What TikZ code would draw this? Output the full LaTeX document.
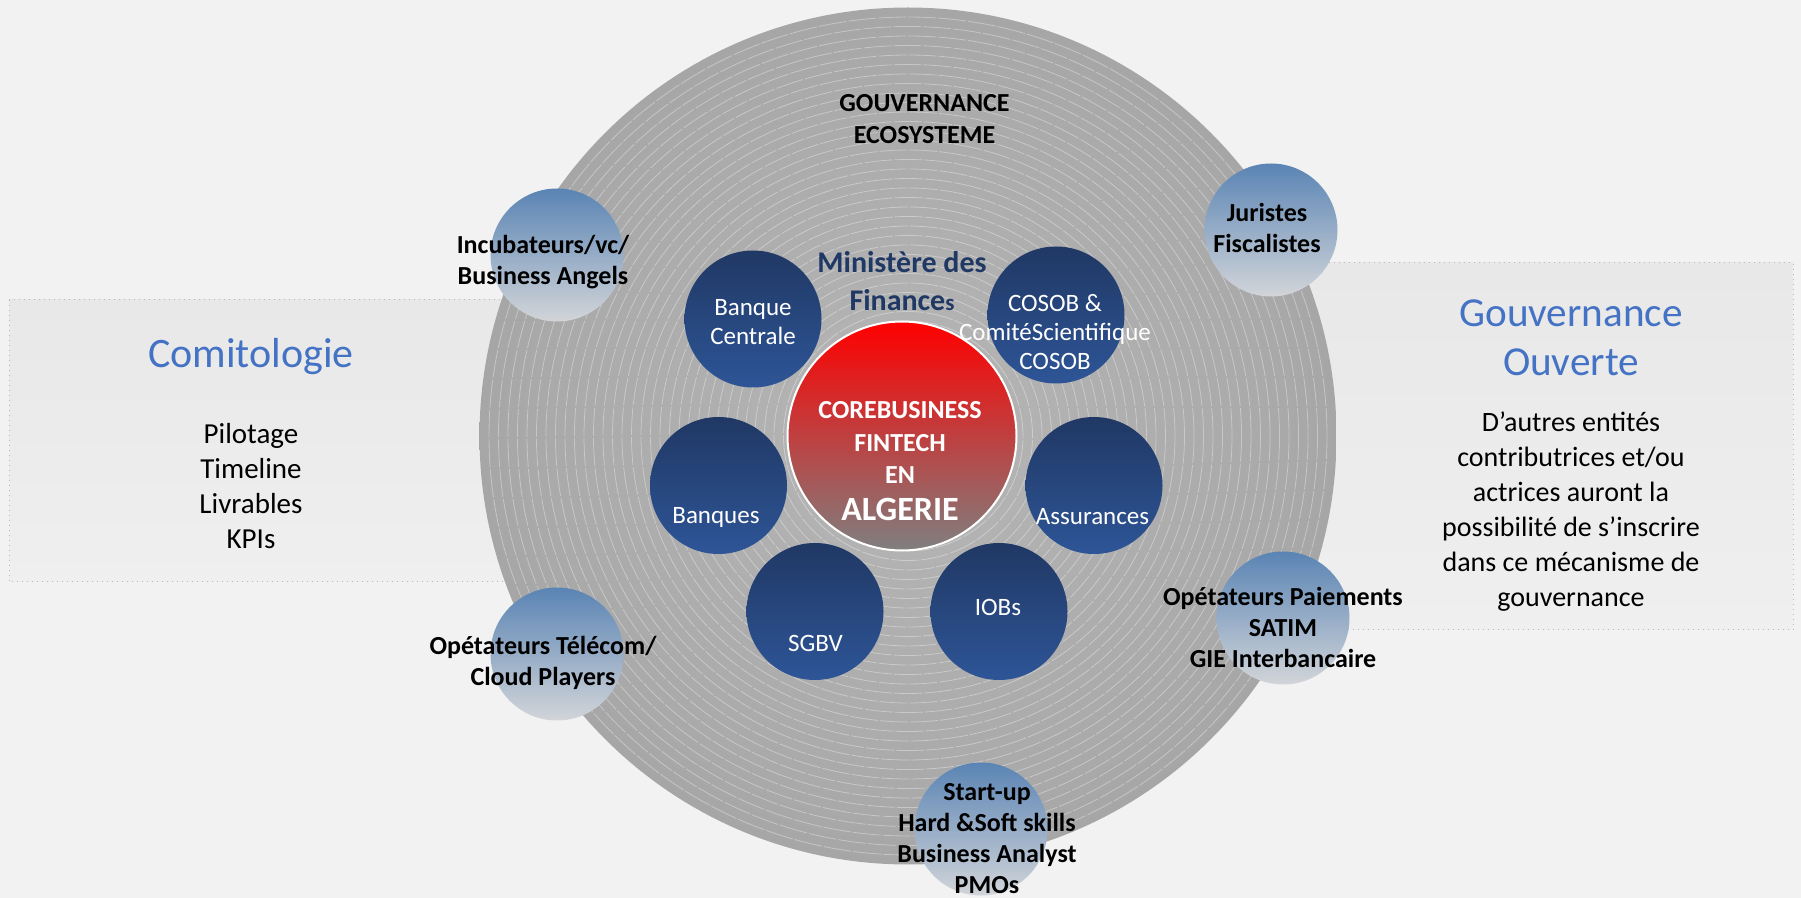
\documentclass[tikz,border=0pt]{standalone}
\usepackage{fontspec}
\setmainfont{Carlito}
\definecolor{bgcol}{HTML}{F2F2F2}
\definecolor{panelTop}{HTML}{E8E8E8}
\definecolor{panelBot}{HTML}{EFEFEF}
\definecolor{discin}{HTML}{B6B6B6}
\definecolor{discmid}{HTML}{A9A9A9}
\definecolor{discout}{HTML}{8E8E8E}
\definecolor{satTop}{HTML}{5A84B4}
\definecolor{satBot}{HTML}{D2D5D9}
\definecolor{memTop}{HTML}{203864}
\definecolor{memBot}{HTML}{2E5597}
\definecolor{coreTop}{HTML}{FF0000}
\definecolor{coreBot}{HTML}{7F7F7F}
\definecolor{titleBlue}{HTML}{4472C4}
\definecolor{navy}{HTML}{203864}
\pgfdeclareradialshading{discshade}{\pgfpoint{0bp}{0bp}}{color(0bp)=(discin); color(22bp)=(discmid); color(50bp)=(discout)}

\begin{document}
\begin{tikzpicture}[x=0.5pt,y=-0.5pt,
    satellite/.style={circle,minimum size=66.5pt,inner sep=0pt,top color=satTop,bottom color=satBot},
    member/.style={circle,minimum size=68.5pt,inner sep=0pt,top color=memTop,bottom color=memBot},
    sattext/.style={font=\fontsize{13}{15.5}\selectfont\bfseries,align=center,inner sep=0pt},
    memtext/.style={font=\fontsize{12.5}{14.5}\selectfont,text=white,align=center,inner sep=0pt},
    ringline/.style={draw=white,opacity=0.35,line width=0.4pt,dash pattern=on 14pt off 1pt},
    panel/.style={top color=panelTop,bottom color=panelBot,draw=gray!55,dotted,line width=0.5pt}]
  \fill[bgcol] (0,0) rectangle (1801,898);
  \useasboundingbox (0,0) rectangle (1801,898);

  \draw[panel] (9,300) rectangle (700,582);
  \draw[panel] (1150,263) rectangle (1793,630);

  \node[circle,minimum size=428.5pt,inner sep=0pt,shading=discshade] (disc) at (908,436) {};
  \foreach \r in {209.5,204.75,...,57}
    \draw[ringline] (disc.center) circle[radius=\r pt];

  \node[circle,minimum size=114.5pt,inner sep=0pt,top color=coreTop,bottom color=coreBot,draw=white,line width=1pt] (core) at (902,436) {};

  \node[member] (bcentrale) at (753,319) {};
  \node[member] (cosob) at (1056,315) {};
  \node[member] (banques) at (718.5,485.5) {};
  \node[member] (assur) at (1094,485.5) {};
  \node[member] (sgbv) at (815,611.5) {};
  \node[member] (iobs) at (999,611.5) {};

  \node[satellite] (incub) at (557,255) {};
  \node[satellite] (telecom) at (557,654) {};
  \node[satellite] (juristes) at (1271,230) {};
  \node[satellite] (paiements) at (1283,618) {};
  \node[satellite] (startup) at (981,829) {};

  \node[font=\fontsize{13}{16}\selectfont\bfseries,align=center] (ecoT) at (924.5,119) {GOUVERNANCE\\ECOSYSTEME};
  \node[font=\fontsize{15}{19.4}\selectfont\bfseries,text=navy,align=center] (minT) at (902,281) {Ministère des\\Finance{\fontsize{11.5}{11.5}\selectfont s}};
  \node[font=\fontsize{13}{16.3}\selectfont\bfseries,text=white,align=center] (coreT) at (900,461) {COREBUSINESS\\FINTECH\\EN\\[2pt]{\fontsize{17}{18}\selectfont ALGERIE}};

  \node[memtext] (bcentraleT) at (753,322.5) {Banque\\Centrale};
  \node[memtext] (cosobT) at (1055,332) {COSOB \&\\ComitéScientifique\\COSOB};
  \node[memtext] (banquesT) at (716,517) {Banques};
  \node[memtext] (assurT) at (1092.5,517) {Assurances};
  \node[memtext] (sgbvT) at (815.5,643) {SGBV};
  \node[memtext] (iobsT) at (998,607) {IOBs};

  \node[sattext] (incubT) at (543,262) {Incubateurs/vc/\\Business Angels};
  \node[sattext] (telecomT) at (543,663) {Opétateurs Télécom/\\Cloud Players};
  \node[sattext] (juristesT) at (1267,227.5) {Juristes\\Fiscalistes};
  \node[sattext] (paiementsT) at (1283,627.5) {Opétateurs Paiements\\SATIM\\GIE Interbancaire};
  \node[sattext] (startupT) at (987,839) {Start-up\\Hard \&Soft skills\\Business Analyst\\PMOs};

  \node[font=\fontsize{21}{24}\selectfont,text=titleBlue] (comiT) at (251,357) {Comitologie};
  \node[font=\fontsize{14.5}{17.4}\selectfont,align=center] (comiL) at (251,486) {Pilotage\\Timeline\\Livrables\\KPIs};
  \node[font=\fontsize{20.6}{24.7}\selectfont,text=titleBlue,align=center] (ouvT) at (1571,337.5) {Gouvernance\\Ouverte};
  \node[font=\fontsize{14}{17.5}\selectfont,align=center] (ouvL) at (1571,512) {D’autres entités\\contributrices et/ou\\actrices auront la\\possibilité de s’inscrire\\dans ce mécanisme de\\gouvernance};
\end{tikzpicture}
\end{document}
